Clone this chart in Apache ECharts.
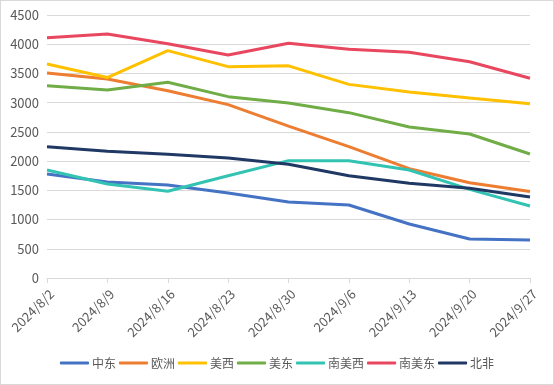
<!DOCTYPE html>
<html>
<head>
<meta charset="utf-8">
<script src="https://cdn.jsdelivr.net/npm/echarts@6/dist/echarts.min.js"></script>
<style>
html,body{margin:0;padding:0;background:#fff;}
#c{position:absolute;left:0;top:0;width:552px;height:383px;border:1px solid #d9d9d9;}
</style>
</head>
<body>
<div id="c"></div>
<script>
const categories = ['2024/8/2','2024/8/9','2024/8/16','2024/8/23','2024/8/30','2024/9/6','2024/9/13','2024/9/20','2024/9/27'];
const seriesNames = ['中东','欧洲','美西','美东','南美西','南美东','北非'];
const zhongdong = [1780, 1643, 1591, 1454, 1300, 1249, 924, 667, 650];
const ouzhou    = [3508, 3405, 3205, 2966, 2600, 2247, 1870, 1631, 1480];
const meixi     = [3662, 3430, 3890, 3616, 3630, 3313, 3183, 3080, 2983];
const meidong   = [3291, 3217, 3348, 3103, 2995, 2829, 2584, 2464, 2122];
const nanmeixi  = [1848, 1608, 1483, 1750, 2008, 2008, 1848, 1517, 1232];
const nanmeidong= [4112, 4175, 4009, 3816, 4015, 3913, 3862, 3701, 3417];
const beifei    = [2247, 2168, 2117, 2053, 1945, 1750, 1620, 1535, 1386];
const yTicks = [0, 500, 1000, 1500, 2000, 2500, 3000, 3500, 4000, 4500];

const colors = ['#4472C4','#ED7D31','#FFC000','#70AD47','#33C3B3','#E8475F','#203864'];
const values = [zhongdong, ouzhou, meixi, meidong, nanmeixi, nanmeidong, beifei];
const font = '"Microsoft YaHei","Noto Sans CJK SC","Noto Sans",sans-serif';

const chart = echarts.init(document.getElementById('c'), null, {renderer:'canvas'});
chart.setOption({
  animation:false,
  color: colors,
  grid:{left:46, right:23, top:14, bottom:106, containLabel:false},
  xAxis:{
    type:'category', boundaryGap:false, data:categories,
    axisLine:{lineStyle:{color:'#d9d9d9', width:1}},
    axisTick:{show:true, length:5, lineStyle:{color:'#d9d9d9'}},
    axisLabel:{rotate:45, color:'#595959', fontSize:13, fontFamily:font, margin:9, interval:0, verticalAlign:'top'}
  },
  yAxis:{
    type:'value', min:yTicks[0], max:yTicks[yTicks.length-1], interval:500,
    axisLine:{show:false}, axisTick:{show:false},
    splitLine:{lineStyle:{color:'#d9d9d9', width:1}},
    axisLabel:{color:'#595959', fontSize:13, fontFamily:font, margin:8, formatter: v => String(v)}
  },
  legend:{
    bottom:10, left:'center', itemWidth:29, itemHeight:3, itemGap:3,
    icon:'roundRect',
    textStyle:{color:'#595959', fontSize:12, fontFamily:font, padding:[0,0,0,-2]},
    data: seriesNames
  },
  series: seriesNames.map((n,i)=>({
    name:n, type:'line', data: values[i], symbol:'none',
    lineStyle:{width:3, color:colors[i]}, itemStyle:{color:colors[i]}
  }))
});
</script>
</body>
</html>
